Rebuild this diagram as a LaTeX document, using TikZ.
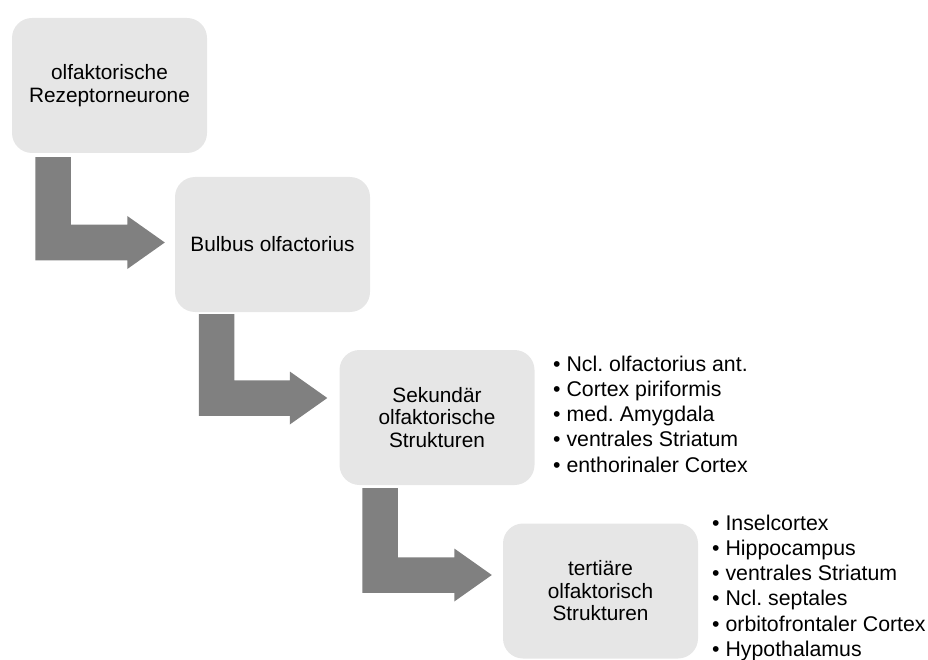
\documentclass[tikz,border=0pt]{standalone}
\usepackage{fontspec}
\setmainfont{Liberation Sans}
\frenchspacing
\usetikzlibrary{calc}
\definecolor{boxgray}{RGB}{230,230,230}
\definecolor{arrgray}{RGB}{128,128,128}
\begin{document}
\begin{tikzpicture}[x=1pt,y=-1pt,
  stage/.style={fill=boxgray, rounded corners=20pt, minimum width=195pt,
    minimum height=135pt, align=center, inner sep=0pt,
    font=\fontsize{20.8}{22.5}\selectfont},
  itemtext/.style={anchor=base west, inner sep=0pt,
    font=\fontsize{21.3}{25.3}\selectfont},
  bendarrow/.style={fill=arrgray}
]
\useasboundingbox (0,0) rectangle (928,660);

\node[stage] (b1) at (109.5,85.5) {olfaktorische\\Rezeptorneurone};
\node[stage] (b2) at (272.5,244.5) {Bulbus olfactorius};
\node[stage] (b3) at (437,417.5) {Sekundär\\olfaktorische\\Strukturen};
\node[stage] (b4) at (600.5,591) {tertiäre\\olfaktorisch\\Strukturen};

\coordinate (s1) at ($(b1.south)+(-56.5,4)$);
\coordinate (t1) at ($(b2.west)+(-10,-2)$);
\coordinate (s2) at ($(b2.south)+(-56,2)$);
\coordinate (t2) at ($(b3.west)+(-12,-19.5)$);
\coordinate (s3) at ($(b3.south)+(-57,3)$);
\coordinate (t3) at ($(b4.west)+(-11,-16)$);

\foreach \s/\t in {s1/t1,s2/t2,s3/t3}{
  \fill[bendarrow] let \p1=(\s), \p2=(\t) in
    (\x1-17.75pt,\y1) -- (\x1+17.75pt,\y1) -- (\x1+17.75pt,\y2+17.75pt)
    -- (\x2-37.5pt,\y2+17.75pt) -- (\x2-37.5pt,\y2+26.5pt) -- (\x2,\y2)
    -- (\x2-37.5pt,\y2-26.5pt) -- (\x2-37.5pt,\y2-17.75pt)
    -- (\x1-17.75pt,\y2-17.75pt) -- cycle;
}

\foreach \t [count=\i] in {Ncl. olfactorius ant., Cortex piriformis,
  med. Amygdala, ventrales Striatum, enthorinaler Cortex}{
  \node[itemtext] (p\i) at (553,{371+25.3*(\i-1)}) {• \t};
}
\foreach \t [count=\i] in {Inselcortex, Hippocampus, ventrales Striatum,
  Ncl. septales, orbitofrontaler Cortex, Hypothalamus}{
  \node[itemtext] (q\i) at (712,{530+25.3*(\i-1)}) {• \t};
}
\end{tikzpicture}
\end{document}
